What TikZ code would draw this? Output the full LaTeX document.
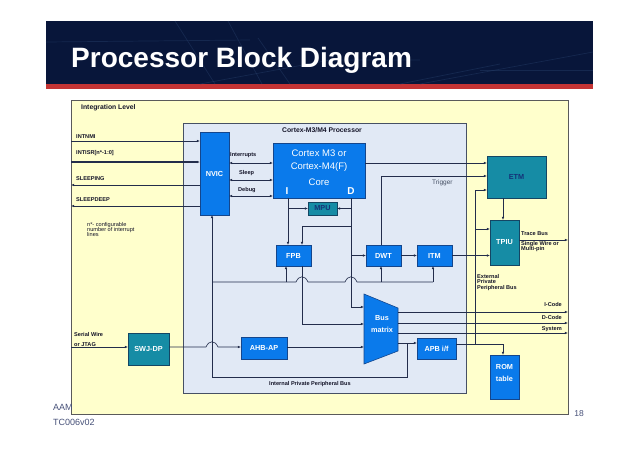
\documentclass[tikz,border=0pt]{standalone}
\usepackage{fontspec}
\setmainfont{Liberation Sans}
\usetikzlibrary{arrows.meta}
\newcommand{\myfs}[1]{\fontsize{#1}{#1}\selectfont}
\definecolor{navyb}{RGB}{8,22,58}
\definecolor{navyl}{RGB}{38,62,105}
\definecolor{redst}{RGB}{196,52,52}
\definecolor{yel}{RGB}{255,255,204}
\definecolor{intgb}{RGB}{90,90,90}
\definecolor{procf}{RGB}{225,233,245}
\definecolor{procb}{RGB}{70,80,100}
\definecolor{myblue}{RGB}{10,122,235}
\definecolor{bordblue}{RGB}{20,70,140}
\definecolor{myteal}{RGB}{22,140,165}
\definecolor{bordteal}{RGB}{20,70,100}
\definecolor{wirec}{RGB}{35,45,75}
\definecolor{labc}{RGB}{20,20,40}
\definecolor{tealtxt}{RGB}{20,50,120}
\definecolor{foot}{RGB}{70,80,120}
\tikzset{
  blk/.style={draw=bordblue, fill=myblue, text=white, font=\bfseries\myfs{7.3}, inner sep=0pt, outer sep=0pt, anchor=north west, line width=0.6pt},
  tealblk/.style={blk, draw=bordteal, fill=myteal},
  wire/.style={draw=wirec, line width=0.6pt},
  arr/.style={wire, -{Latex[length=3.2pt,width=2.6pt]}},
  darr/.style={wire, {Latex[length=3.2pt,width=2.6pt]}-{Latex[length=3.2pt,width=2.6pt]}},
  lbl/.style={font=\bfseries\myfs{5.6}, text=labc, inner sep=0pt, anchor=base west},
  lble/.style={lbl, anchor=base east},
  wtxt/.style={text=white, inner sep=0pt},
}
\begin{document}
\begin{tikzpicture}[x=1pt,y=-1pt]
\useasboundingbox (0,0) rectangle (638,451);
% banner
\fill[navyb] (46,21) rectangle (593,84);
\fill[redst] (46,84) rectangle (593,89);
\begin{scope}[navyl, line width=0.7pt, opacity=0.45]
  \draw (46,42) -- (250,40);
  \draw (175,21) -- (215,84);
  \draw (228,21) -- (262,84);
  \draw (258,38) -- (290,84);
  \draw (200,84) -- (330,60) -- (420,60);
  \draw (400,84) -- (500,64);
  \draw (420,84) -- (593,52);
  \draw (480,70) -- (593,70);
\end{scope}
\node[text=white, font=\bfseries\myfs{28}, anchor=base west, inner sep=0pt] (title) at (71,67) {Processor Block Diagram};

% boxes
\node[draw=intgb, fill=yel, line width=0.8pt, minimum width=497pt, minimum height=314pt, anchor=north west, inner sep=0pt, outer sep=0pt] (intg) at (71,100) {};
\node[font=\bfseries\myfs{6.8}, text=labc, anchor=base west, inner sep=0pt] (intgl) at (81,109) {Integration Level};
\node[draw=procb, fill=procf, line width=0.7pt, minimum width=283pt, minimum height=270pt, anchor=north west, inner sep=0pt, outer sep=0pt] (proc) at (183,123) {};
\node[font=\bfseries\myfs{6.8}, text=labc, inner sep=0pt] (procl) at (322,130) {Cortex-M3/M4 Processor};

% blocks
\node[blk, minimum width=29pt, minimum height=83pt] (nvic) at (200,132) {NVIC};
\node[blk, minimum width=92pt, minimum height=55pt] (core) at (273,143) {};
\node[wtxt, font=\myfs{9.5}] (coreA) at (319,153) {Cortex M3 or};
\node[wtxt, font=\myfs{9.5}] (coreB) at (319,167.5) {Cortex-M4(F)};
\node[wtxt, font=\myfs{9.5}] (coreC) at (319,182) {Core};
\node[wtxt, font=\bfseries\myfs{10}] (coreI) at (287,191) {I};
\node[wtxt, font=\bfseries\myfs{10}] (coreD) at (351,191) {D};
\node[tealblk, text=tealtxt, minimum width=29pt, minimum height=13pt] (mpu) at (308,202) {MPU};
\node[blk, minimum width=35pt, minimum height=21pt] (fpb) at (276,245) {FPB};
\node[blk, minimum width=35pt, minimum height=21pt] (dwt) at (366,245) {DWT};
\node[blk, minimum width=35pt, minimum height=21pt] (itm) at (417,245) {ITM};
\node[tealblk, text=tealtxt, minimum width=59pt, minimum height=42pt] (etm) at (487,156) {ETM};
\node[tealblk, minimum width=29pt, minimum height=45pt] (tpiu) at (490,220) {TPIU};
\node[tealblk, minimum width=41pt, minimum height=32pt] (swj) at (128,333) {SWJ-DP};
\node[blk, minimum width=46pt, minimum height=22pt] (ahb) at (241,337) {AHB-AP};
\node[blk, minimum width=39pt, minimum height=21pt] (apb) at (417,338) {APB i/f};
\node[blk, minimum width=29pt, minimum height=44pt] (rom) at (490,355) {};
\node[wtxt, font=\bfseries\myfs{7.3}] (romA) at (504.5,367) {ROM};
\node[wtxt, font=\bfseries\myfs{7.3}] (romB) at (504.5,379) {table};
% bus matrix
\coordinate (bm1) at (364,294);
\coordinate (bm2) at (398,308);
\coordinate (bm3) at (398,351);
\coordinate (bm4) at (364,364);
\draw[draw=bordblue, fill=myblue, line width=0.6pt] (bm1) -- (bm2) -- (bm3) -- (bm4) -- cycle;
\node[wtxt, font=\bfseries\myfs{7.3}] (bmA) at (382,318) {Bus};
\node[wtxt, font=\bfseries\myfs{7.3}] (bmB) at (382,329.5) {matrix};

% left signals
\draw[arr] (intg.west |- 0,141) -- (nvic.west |- 0,141);
\draw[arr, line width=1.1pt] (intg.west |- 0,162) -- (nvic.west |- 0,162);
\draw[arr] (nvic.west |- 0,185) -- (intg.west |- 0,185);
\draw[arr] (nvic.west |- 0,206) -- (intg.west |- 0,206);
\node[lbl] (lnmi) at (76,138) {INTNMI};
\node[lbl] (lisr) at (76,154) {INTISR[n*-1:0]};
\node[lbl] (lslp) at (76,180) {SLEEPING};
\node[lbl] (lsd) at (76,201) {SLEEPDEEP};
\node[font=\myfs{5.6}, text=labc, inner sep=0pt, anchor=north west, align=left] (note) at (87,222) {n*- configurable\\[-0.6pt]number of interrupt\\[-0.6pt]lines};

% NVIC <-> core
\draw[darr, line width=1pt] (nvic.east |- 0,163) -- (core.west |- 0,163);
\draw[darr] (nvic.east |- 0,180) -- (core.west |- 0,180);
\draw[darr] (nvic.east |- 0,196) -- (core.west |- 0,196);
\node[lbl] (lint) at (230,156) {Interrupts};
\node[lbl] (lsleep) at (239,174) {Sleep};
\node[lbl] (ldbg) at (238,191) {Debug};

% I bus
\draw[arr] (core.south -| 288,0) -- (fpb.north -| 288,0);
\draw[arr] (mpu.west -| 288,0) -- (mpu.west);
% D bus
\draw[arr] (core.south -| 351,0) -- (351,307) -- (bm1 |- 0,307);
\draw[arr] (mpu.east -| 351,0) -- (mpu.east);
\draw[arr] (351,226) -- (302,226) -- (fpb.north -| 302,0);
\draw[arr] (dwt.west -| 351,0) -- (dwt.west);
% core -> ETM, trigger
\draw[arr] (core.east |- 0,163) -- (etm.west |- 0,163);
\draw[arr] (dwt.north -| 381,0) -- (381,176) -- (etm.west |- 0,176);
\node[font=\myfs{6.5}, text=procb, anchor=base west, inner sep=0pt] (ltrig) at (432,184) {Trigger};
% DWT/ITM/TPIU/ETM
\draw[arr] (dwt.east) -- (itm.west);
\draw[arr] (itm.east) -- (tpiu.west |- itm.east);
\draw[arr] (etm.south -| 503,0) -- (tpiu.north -| 503,0);
\draw[arr] (tpiu.east |- 0,240) -- (intg.east |- 0,240);
\node[lbl] (ltb) at (521,235) {Trace Bus};
\node[lbl] (lsw) at (521,245) {Single Wire or};
\node[lbl] (lmp) at (521,250.5) {Multi-pin};
% external PPB
\draw[arr] (475,344) -- (475,190) -- (etm.west |- 0,190);
\draw[arr] (475,229) -- (tpiu.west |- 0,229);
\node[lbl] (le1) at (477,278) {External};
\node[lbl] (le2) at (477,283.5) {Private};
\node[lbl] (le3) at (477,289) {Peripheral Bus};
\draw[arr] (apb.east |- 0,344) -- (503,344) -- (rom.north -| 503,0);

% NVIC debug bus and horizontal with jumps
\draw[arr] (212,377) -- (nvic.south -| 212,0);
\draw[wire] (212,282) -- (296,282) .. controls (299,275) and (305,275) .. (308,282) -- (345,282) .. controls (348,275) and (354,275) .. (357,282) -- (433,282);
\draw[arr] (286,282) -- (fpb.south -| 286,0);
\draw[arr] (381,282) -- (dwt.south -| 381,0);
\draw[arr] (433,282) -- (itm.south -| 433,0);
\draw[arr] (fpb.south -| 302,0) -- (302,324) -- (bm1 |- 0,324);

% SWJ / AHB
\draw[arr] (intg.west |- 0,347) -- (swj.west |- 0,347);
\node[lbl] (lsw1) at (74,336) {Serial Wire};
\node[lbl] (lsw2) at (74,346) {or JTAG};
\draw[arr] (swj.east |- 0,347) -- (206,347) .. controls (209,340) and (215,340) .. (218,347) -- (ahb.west |- 0,347);
\draw[arr] (ahb.east |- 0,347) -- (bm1 |- 0,347);

% bus matrix outputs
\draw[arr] (bm2 |- 0,312) -- (intg.east |- 0,312);
\draw[arr] (bm2 |- 0,323) -- (intg.east |- 0,323);
\draw[arr] (bm2 |- 0,333) -- (intg.east |- 0,333);
\node[lble] (lic) at (562,306) {I-Code};
\node[lble] (ldc) at (562,319) {D-Code};
\node[lble] (lsy) at (562,330) {System};
\draw[arr] (bm2 |- 0,343) -- (apb.west |- 0,343);
\draw[wire] (407,343) -- (407,377) -- (212,377);
\node[font=\bfseries\myfs{5.6}, text=labc, inner sep=0pt, anchor=base] (lippb) at (310,385) {Internal Private Peripheral Bus};

% footer
\node[font=\myfs{9}, text=foot, anchor=base west, inner sep=0pt] (aam) at (53,410) {AAM};
\node[font=\myfs{9}, text=foot, anchor=base west, inner sep=0pt] (tc) at (53,425.5) {TC006v02};
\node[font=\myfs{8.5}, text=foot, inner sep=0pt] (pg) at (579,414) {18};
\end{tikzpicture}
\end{document}
